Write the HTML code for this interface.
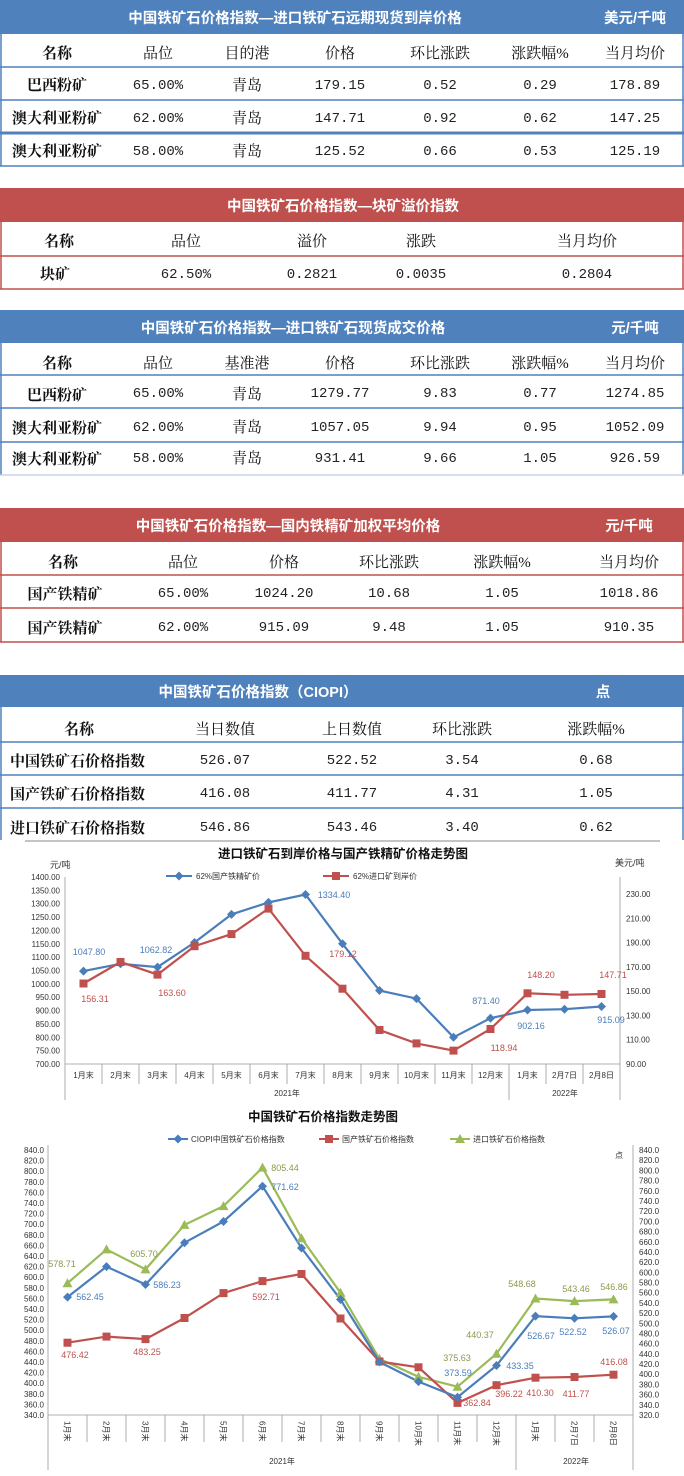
<!DOCTYPE html>
<html><head><meta charset="utf-8"><style>
html,body{margin:0;padding:0;background:#fff}
svg{display:block}
.h{font-family:"Liberation Sans","Noto Sans CJK SC",sans-serif;font-weight:bold;font-size:14.5px;fill:#fff}
.c{font-family:"Liberation Serif","Noto Serif CJK SC",serif;font-size:15px;fill:#111;text-anchor:middle}
.b{font-weight:bold}
.n{font-family:"Liberation Mono","Noto Serif CJK SC",monospace;font-size:14px;fill:#222;text-anchor:middle}
.ax{font-family:"Liberation Sans","Noto Sans CJK SC",sans-serif;font-size:8px;fill:#333}
.t{font-family:"Liberation Sans","Noto Sans CJK SC",sans-serif;font-size:12.5px;font-weight:bold;fill:#111;text-anchor:middle}
.lb{font-family:"Liberation Sans","Noto Sans CJK SC",sans-serif;font-size:9px}
</style></head><body>
<svg width="684" height="1476" viewBox="0 0 684 1476" xmlns="http://www.w3.org/2000/svg">
<defs>
<path id="dia" d="M0,-4.5 L4.5,0 0,4.5 -4.5,0Z" fill="#4a7ebb"/>
<rect id="sq" x="-4" y="-4" width="8" height="8" fill="#c0504d"/>
<path id="tri" d="M0,-5 L5,4 -5,4Z" fill="#9bbb59"/>
</defs>

<!-- TABLE 1 -->
<rect x="0" y="0" width="684" height="34" fill="#4f81bd"/>
<text class="h" x="295" y="23" text-anchor="middle">中国铁矿石价格指数—进口铁矿石远期现货到岸价格</text>
<text class="h" x="635" y="23" text-anchor="middle">美元/千吨</text>
<g stroke="#4f81bd" stroke-width="1.5" fill="none">
<line x1="1" y1="34" x2="1" y2="166"/><line x1="683" y1="34" x2="683" y2="166"/>
<line x1="0" y1="67" x2="684" y2="67"/><line x1="0" y1="100" x2="684" y2="100"/>
<line x1="0" y1="133" x2="684" y2="133" stroke-width="3"/><line x1="0" y1="166" x2="684" y2="166"/>
</g>
<g class="c"><text class="c b" x="57" y="58">名称</text><text class="c" x="158" y="58">品位</text><text class="c" x="247" y="58">目的港</text><text class="c" x="340" y="58">价格</text><text class="c" x="440" y="58">环比涨跌</text><text class="c" x="540" y="58">涨跌幅%</text><text class="c" x="635" y="58">当月均价</text></g>
<text class="c b" x="57" y="90">巴西粉矿</text><text class="c" x="247" y="90">青岛</text>
<text class="n" x="158" y="89">65.00%</text><text class="n" x="340" y="89">179.15</text><text class="n" x="440" y="89">0.52</text><text class="n" x="540" y="89">0.29</text><text class="n" x="635" y="89">178.89</text>
<text class="c b" x="57" y="123">澳大利亚粉矿</text><text class="c" x="247" y="123">青岛</text>
<text class="n" x="158" y="122">62.00%</text><text class="n" x="340" y="122">147.71</text><text class="n" x="440" y="122">0.92</text><text class="n" x="540" y="122">0.62</text><text class="n" x="635" y="122">147.25</text>
<text class="c b" x="57" y="156">澳大利亚粉矿</text><text class="c" x="247" y="156">青岛</text>
<text class="n" x="158" y="155">58.00%</text><text class="n" x="340" y="155">125.52</text><text class="n" x="440" y="155">0.66</text><text class="n" x="540" y="155">0.53</text><text class="n" x="635" y="155">125.19</text>

<!-- TABLE 2 -->
<rect x="0" y="188" width="684" height="34" fill="#c0504d"/>
<text class="h" x="343" y="211" text-anchor="middle">中国铁矿石价格指数—块矿溢价指数</text>
<g stroke="#c0504d" stroke-width="1.5" fill="none">
<line x1="1" y1="222" x2="1" y2="289"/><line x1="683" y1="222" x2="683" y2="289"/>
<line x1="0" y1="256" x2="684" y2="256"/><line x1="0" y1="289" x2="684" y2="289"/>
</g>
<text class="c b" x="59" y="246">名称</text><text class="c" x="186" y="246">品位</text><text class="c" x="312" y="246">溢价</text><text class="c" x="421" y="246">涨跌</text><text class="c" x="587" y="246">当月均价</text>
<text class="c b" x="55" y="279">块矿</text><text class="n" x="186" y="278">62.50%</text><text class="n" x="312" y="278">0.2821</text><text class="n" x="421" y="278">0.0035</text><text class="n" x="587" y="278">0.2804</text>

<!-- TABLE 3 -->
<rect x="0" y="310" width="684" height="33" fill="#4f81bd"/>
<text class="h" x="293" y="333" text-anchor="middle">中国铁矿石价格指数—进口铁矿石现货成交价格</text>
<text class="h" x="635" y="333" text-anchor="middle">元/千吨</text>
<g stroke="#4f81bd" stroke-width="1.5" fill="none">
<line x1="1" y1="343" x2="1" y2="475"/><line x1="683" y1="343" x2="683" y2="475"/>
<line x1="0" y1="375" x2="684" y2="375"/><line x1="0" y1="408" x2="684" y2="408"/>
<line x1="0" y1="442" x2="684" y2="442"/><line x1="0" y1="475" x2="684" y2="475" stroke="#c5d3e6"/>
</g>
<text class="c b" x="57" y="368">名称</text><text class="c" x="158" y="368">品位</text><text class="c" x="247" y="368">基准港</text><text class="c" x="340" y="368">价格</text><text class="c" x="440" y="368">环比涨跌</text><text class="c" x="540" y="368">涨跌幅%</text><text class="c" x="635" y="368">当月均价</text>
<text class="c b" x="57" y="400">巴西粉矿</text><text class="c" x="247" y="399">青岛</text>
<text class="n" x="158" y="397">65.00%</text><text class="n" x="340" y="397">1279.77</text><text class="n" x="440" y="397">9.83</text><text class="n" x="540" y="397">0.77</text><text class="n" x="635" y="397">1274.85</text>
<text class="c b" x="57" y="433">澳大利亚粉矿</text><text class="c" x="247" y="432">青岛</text>
<text class="n" x="158" y="431">62.00%</text><text class="n" x="340" y="431">1057.05</text><text class="n" x="440" y="431">9.94</text><text class="n" x="540" y="431">0.95</text><text class="n" x="635" y="431">1052.09</text>
<text class="c b" x="57" y="464">澳大利亚粉矿</text><text class="c" x="247" y="463">青岛</text>
<text class="n" x="158" y="462">58.00%</text><text class="n" x="340" y="462">931.41</text><text class="n" x="440" y="462">9.66</text><text class="n" x="540" y="462">1.05</text><text class="n" x="635" y="462">926.59</text>

<!-- TABLE 4 -->
<rect x="0" y="508" width="684" height="34" fill="#c0504d"/>
<text class="h" x="288" y="531" text-anchor="middle">中国铁矿石价格指数—国内铁精矿加权平均价格</text>
<text class="h" x="629" y="531" text-anchor="middle">元/千吨</text>
<g stroke="#c0504d" stroke-width="1.5" fill="none">
<line x1="1" y1="542" x2="1" y2="642"/><line x1="683" y1="542" x2="683" y2="642"/>
<line x1="0" y1="575" x2="684" y2="575"/><line x1="0" y1="608" x2="684" y2="608"/><line x1="0" y1="642" x2="684" y2="642"/>
</g>
<text class="c b" x="63" y="567">名称</text><text class="c" x="183" y="567">品位</text><text class="c" x="284" y="567">价格</text><text class="c" x="389" y="567">环比涨跌</text><text class="c" x="502" y="567">涨跌幅%</text><text class="c" x="629" y="567">当月均价</text>
<text class="c b" x="65" y="599">国产铁精矿</text><text class="n" x="183" y="597">65.00%</text><text class="n" x="284" y="597">1024.20</text><text class="n" x="389" y="597">10.68</text><text class="n" x="502" y="597">1.05</text><text class="n" x="629" y="597">1018.86</text>
<text class="c b" x="65" y="633">国产铁精矿</text><text class="n" x="183" y="631">62.00%</text><text class="n" x="284" y="631">915.09</text><text class="n" x="389" y="631">9.48</text><text class="n" x="502" y="631">1.05</text><text class="n" x="629" y="631">910.35</text>

<!-- TABLE 5 -->
<rect x="0" y="675" width="684" height="32" fill="#4f81bd"/>
<text class="h" x="258" y="697" text-anchor="middle">中国铁矿石价格指数（CIOPI）</text>
<text class="h" x="603" y="697" text-anchor="middle">点</text>
<g stroke="#4f81bd" stroke-width="1.5" fill="none">
<line x1="1" y1="707" x2="1" y2="840"/><line x1="683" y1="707" x2="683" y2="840"/>
<line x1="0" y1="742" x2="684" y2="742"/><line x1="0" y1="775" x2="684" y2="775"/><line x1="0" y1="808" x2="684" y2="808"/>
</g>
<text class="c b" x="79" y="734">名称</text><text class="c" x="225" y="734">当日数值</text><text class="c" x="352" y="734">上日数值</text><text class="c" x="462" y="734">环比涨跌</text><text class="c" x="596" y="734">涨跌幅%</text>
<text class="c b" x="10" y="766" style="text-anchor:start">中国铁矿石价格指数</text><text class="n" x="225" y="764">526.07</text><text class="n" x="352" y="764">522.52</text><text class="n" x="462" y="764">3.54</text><text class="n" x="596" y="764">0.68</text>
<text class="c b" x="10" y="799" style="text-anchor:start">国产铁矿石价格指数</text><text class="n" x="225" y="797">416.08</text><text class="n" x="352" y="797">411.77</text><text class="n" x="462" y="797">4.31</text><text class="n" x="596" y="797">1.05</text>
<text class="c b" x="10" y="833" style="text-anchor:start">进口铁矿石价格指数</text><text class="n" x="225" y="831">546.86</text><text class="n" x="352" y="831">543.46</text><text class="n" x="462" y="831">3.40</text><text class="n" x="596" y="831">0.62</text>

<!-- CHART 1 -->
<line x1="25" y1="841" x2="660" y2="841" stroke="#888" stroke-width="1"/>
<text class="t" x="343" y="858">进口铁矿石到岸价格与国产铁精矿价格走势图</text>
<text class="ax" x="50" y="868" style="font-size:9px">元/吨</text>
<text class="ax" x="615" y="866" style="font-size:9px">美元/吨</text>
<line x1="166" y1="876" x2="192" y2="876" stroke="#4a7ebb" stroke-width="2"/><use href="#dia" x="179" y="876"/>
<text class="ax" x="196" y="879">62%国产铁精矿价</text>
<line x1="323" y1="876" x2="349" y2="876" stroke="#c0504d" stroke-width="2"/><use href="#sq" x="336" y="876"/>
<text class="ax" x="353" y="879">62%进口矿到岸价</text>
<g stroke="#999" stroke-width="0.8">
<line x1="65" y1="877" x2="65" y2="1100"/><line x1="620" y1="877" x2="620" y2="1100"/>
<line x1="65" y1="1064" x2="620" y2="1064"/>
<line x1="509" y1="1064" x2="509" y2="1100"/>
<line x1="102" y1="1064" x2="102" y2="1084"/><line x1="139" y1="1064" x2="139" y2="1084"/><line x1="176" y1="1064" x2="176" y2="1084"/><line x1="213" y1="1064" x2="213" y2="1084"/><line x1="250" y1="1064" x2="250" y2="1084"/><line x1="287" y1="1064" x2="287" y2="1084"/><line x1="324" y1="1064" x2="324" y2="1084"/><line x1="361" y1="1064" x2="361" y2="1084"/><line x1="398" y1="1064" x2="398" y2="1084"/><line x1="435" y1="1064" x2="435" y2="1084"/><line x1="472" y1="1064" x2="472" y2="1084"/><line x1="546" y1="1064" x2="546" y2="1084"/><line x1="583" y1="1064" x2="583" y2="1084"/>
</g>
<g class="ax" text-anchor="end">
<text x="60" y="1067">700.00</text><text x="60" y="1053.6">750.00</text><text x="60" y="1040.3">800.00</text><text x="60" y="1026.9">850.00</text><text x="60" y="1013.6">900.00</text><text x="60" y="1000.2">950.00</text><text x="60" y="986.9">1000.00</text><text x="60" y="973.5">1050.00</text><text x="60" y="960.1">1100.00</text><text x="60" y="946.8">1150.00</text><text x="60" y="933.4">1200.00</text><text x="60" y="920.1">1250.00</text><text x="60" y="906.7">1300.00</text><text x="60" y="893.3">1350.00</text><text x="60" y="880">1400.00</text>
</g>
<g class="ax">
<text x="626" y="1067">90.00</text><text x="626" y="1042.7">110.00</text><text x="626" y="1018.4">130.00</text><text x="626" y="994.1">150.00</text><text x="626" y="969.8">170.00</text><text x="626" y="945.6">190.00</text><text x="626" y="921.3">210.00</text><text x="626" y="897">230.00</text>
</g>
<g class="ax" text-anchor="middle">
<text x="83.5" y="1078">1月末</text><text x="120.5" y="1078">2月末</text><text x="157.5" y="1078">3月末</text><text x="194.5" y="1078">4月末</text><text x="231.5" y="1078">5月末</text><text x="268.5" y="1078">6月末</text><text x="305.5" y="1078">7月末</text><text x="342.5" y="1078">8月末</text><text x="379.5" y="1078">9月末</text><text x="416.5" y="1078">10月末</text><text x="453.5" y="1078">11月末</text><text x="490.5" y="1078">12月末</text><text x="527.5" y="1078">1月末</text><text x="564.5" y="1078">2月7日</text><text x="601.5" y="1078">2月8日</text>
<text x="287" y="1096">2021年</text><text x="565" y="1096">2022年</text>
</g>
<polyline fill="none" stroke="#4a7ebb" stroke-width="2.2" points="83.5,971.1 120.5,963.8 157.5,967.1 194.5,942.5 231.5,914.4 268.5,902.4 305.5,894.5 342.5,943.8 379.5,990.5 416.5,998.6 453.5,1037.3 490.5,1018.2 527.5,1010 564.5,1009.2 601.5,1006.5"/>
<polyline fill="none" stroke="#c0504d" stroke-width="2.2" points="83.5,983.5 120.5,962 157.5,974.6 194.5,946.2 231.5,934.1 268.5,908.6 305.5,955.8 342.5,988.7 379.5,1030 416.5,1043.4 453.5,1050.6 490.5,1029 527.5,993.3 564.5,994.8 601.5,994"/>
<g>
<use href="#dia" x="83.5" y="971.1"/><use href="#dia" x="120.5" y="963.8"/><use href="#dia" x="157.5" y="967.1"/><use href="#dia" x="194.5" y="942.5"/><use href="#dia" x="231.5" y="914.4"/><use href="#dia" x="268.5" y="902.4"/><use href="#dia" x="305.5" y="894.5"/><use href="#dia" x="342.5" y="943.8"/><use href="#dia" x="379.5" y="990.5"/><use href="#dia" x="416.5" y="998.6"/><use href="#dia" x="453.5" y="1037.3"/><use href="#dia" x="490.5" y="1018.2"/><use href="#dia" x="527.5" y="1010"/><use href="#dia" x="564.5" y="1009.2"/><use href="#dia" x="601.5" y="1006.5"/>
<use href="#sq" x="83.5" y="983.5"/><use href="#sq" x="120.5" y="962"/><use href="#sq" x="157.5" y="974.6"/><use href="#sq" x="194.5" y="946.2"/><use href="#sq" x="231.5" y="934.1"/><use href="#sq" x="268.5" y="908.6"/><use href="#sq" x="305.5" y="955.8"/><use href="#sq" x="342.5" y="988.7"/><use href="#sq" x="379.5" y="1030"/><use href="#sq" x="416.5" y="1043.4"/><use href="#sq" x="453.5" y="1050.6"/><use href="#sq" x="490.5" y="1029"/><use href="#sq" x="527.5" y="993.3"/><use href="#sq" x="564.5" y="994.8"/><use href="#sq" x="601.5" y="994"/>
</g>
<g class="lb" text-anchor="middle" fill="#4a7ebb">
<text x="89" y="955">1047.80</text><text x="156" y="953">1062.82</text><text x="334" y="898">1334.40</text><text x="486" y="1004">871.40</text><text x="531" y="1029">902.16</text><text x="611" y="1023">915.09</text>
</g>
<g class="lb" text-anchor="middle" fill="#c0504d">
<text x="95" y="1002">156.31</text><text x="172" y="996">163.60</text><text x="343" y="957">179.12</text><text x="504" y="1051">118.94</text><text x="541" y="978">148.20</text><text x="613" y="978">147.71</text>
</g>

<!-- CHART 2 -->
<text class="t" x="323" y="1121">中国铁矿石价格指数走势图</text>
<line x1="168" y1="1139" x2="188" y2="1139" stroke="#4a7ebb" stroke-width="2"/><use href="#dia" x="178" y="1139"/>
<text class="ax" x="191" y="1142">CIOPI中国铁矿石价格指数</text>
<line x1="319" y1="1139" x2="339" y2="1139" stroke="#c0504d" stroke-width="2"/><use href="#sq" x="329" y="1139"/>
<text class="ax" x="342" y="1142">国产铁矿石价格指数</text>
<line x1="450" y1="1139" x2="470" y2="1139" stroke="#9bbb59" stroke-width="2"/><use href="#tri" x="460" y="1139"/>
<text class="ax" x="473" y="1142">进口铁矿石价格指数</text>
<text class="ax" x="615" y="1158">点</text>
<g stroke="#999" stroke-width="0.8">
<line x1="48" y1="1145" x2="48" y2="1470"/><line x1="633" y1="1145" x2="633" y2="1470"/>
<line x1="48" y1="1415" x2="633" y2="1415"/>
<line x1="516" y1="1415" x2="516" y2="1470"/>
<line x1="87" y1="1415" x2="87" y2="1442"/><line x1="126" y1="1415" x2="126" y2="1442"/><line x1="165" y1="1415" x2="165" y2="1442"/><line x1="204" y1="1415" x2="204" y2="1442"/><line x1="243" y1="1415" x2="243" y2="1442"/><line x1="282" y1="1415" x2="282" y2="1442"/><line x1="321" y1="1415" x2="321" y2="1442"/><line x1="360" y1="1415" x2="360" y2="1442"/><line x1="399" y1="1415" x2="399" y2="1442"/><line x1="438" y1="1415" x2="438" y2="1442"/><line x1="477" y1="1415" x2="477" y2="1442"/><line x1="555" y1="1415" x2="555" y2="1442"/><line x1="594" y1="1415" x2="594" y2="1442"/>
</g>
<g class="ax" text-anchor="end">
<text x="44" y="1418">340.0</text><text x="44" y="1407.4">360.0</text><text x="44" y="1396.8">380.0</text><text x="44" y="1386.2">400.0</text><text x="44" y="1375.6">420.0</text><text x="44" y="1365">440.0</text><text x="44" y="1354.4">460.0</text><text x="44" y="1343.8">480.0</text><text x="44" y="1333.2">500.0</text><text x="44" y="1322.6">520.0</text><text x="44" y="1312">540.0</text><text x="44" y="1301.4">560.0</text><text x="44" y="1290.8">580.0</text><text x="44" y="1280.2">600.0</text><text x="44" y="1269.6">620.0</text><text x="44" y="1259">640.0</text><text x="44" y="1248.4">660.0</text><text x="44" y="1237.8">680.0</text><text x="44" y="1227.2">700.0</text><text x="44" y="1216.6">720.0</text><text x="44" y="1206">740.0</text><text x="44" y="1195.4">760.0</text><text x="44" y="1184.8">780.0</text><text x="44" y="1174.2">800.0</text><text x="44" y="1163.6">820.0</text><text x="44" y="1153">840.0</text>
</g>
<g class="ax">
<text x="639" y="1418">320.0</text><text x="639" y="1407.8">340.0</text><text x="639" y="1397.6">360.0</text><text x="639" y="1387.4">380.0</text><text x="639" y="1377.2">400.0</text><text x="639" y="1367.1">420.0</text><text x="639" y="1356.9">440.0</text><text x="639" y="1346.7">460.0</text><text x="639" y="1336.5">480.0</text><text x="639" y="1326.3">500.0</text><text x="639" y="1316.1">520.0</text><text x="639" y="1305.9">540.0</text><text x="639" y="1295.7">560.0</text><text x="639" y="1285.5">580.0</text><text x="639" y="1275.3">600.0</text><text x="639" y="1265.2">620.0</text><text x="639" y="1255">640.0</text><text x="639" y="1244.8">660.0</text><text x="639" y="1234.6">680.0</text><text x="639" y="1224.4">700.0</text><text x="639" y="1214.2">720.0</text><text x="639" y="1204">740.0</text><text x="639" y="1193.8">760.0</text><text x="639" y="1183.6">780.0</text><text x="639" y="1173.4">800.0</text><text x="639" y="1163.2">820.0</text><text x="639" y="1153">840.0</text>
</g>
<g class="ax">
<text transform="translate(64.5,1421) rotate(90)">1月末</text><text transform="translate(103.5,1421) rotate(90)">2月末</text><text transform="translate(142.5,1421) rotate(90)">3月末</text><text transform="translate(181.5,1421) rotate(90)">4月末</text><text transform="translate(220.5,1421) rotate(90)">5月末</text><text transform="translate(259.5,1421) rotate(90)">6月末</text><text transform="translate(298.5,1421) rotate(90)">7月末</text><text transform="translate(337.5,1421) rotate(90)">8月末</text><text transform="translate(376.5,1421) rotate(90)">9月末</text><text transform="translate(415.5,1421) rotate(90)">10月末</text><text transform="translate(454.5,1421) rotate(90)">11月末</text><text transform="translate(493.5,1421) rotate(90)">12月末</text><text transform="translate(532.5,1421) rotate(90)">1月末</text><text transform="translate(571.5,1421) rotate(90)">2月7日</text><text transform="translate(610.5,1421) rotate(90)">2月8日</text>
</g>
<g class="ax" text-anchor="middle"><text x="282" y="1464">2021年</text><text x="576" y="1464">2022年</text></g>
<polyline fill="none" stroke="#9bbb59" stroke-width="2.2" points="67.5,1283.2 106.5,1249.4 145.5,1269.4 184.5,1224.9 223.5,1206.1 262.5,1167.6 301.5,1238.2 340.5,1292.7 379.5,1358.9 418.5,1376.8 457.5,1386.7 496.5,1353.7 535.5,1298.5 574.5,1301.1 613.5,1299.4"/>
<polyline fill="none" stroke="#c0504d" stroke-width="2.2" points="67.5,1342.7 106.5,1336.6 145.5,1339.1 184.5,1318 223.5,1293.1 262.5,1281.1 301.5,1274 340.5,1318.5 379.5,1361.5 418.5,1367.3 457.5,1402.9 496.5,1385.2 535.5,1377.7 574.5,1377 613.5,1374.7"/>
<polyline fill="none" stroke="#4a7ebb" stroke-width="2.2" points="67.5,1297.1 106.5,1266.6 145.5,1284.5 184.5,1242.7 223.5,1221.5 262.5,1186.2 301.5,1248 340.5,1299.5 379.5,1362 418.5,1381.6 457.5,1397.2 496.5,1365.5 535.5,1316.1 574.5,1318.3 613.5,1316.4"/>
<g>
<use href="#tri" x="67.5" y="1283.2"/><use href="#tri" x="106.5" y="1249.4"/><use href="#tri" x="145.5" y="1269.4"/><use href="#tri" x="184.5" y="1224.9"/><use href="#tri" x="223.5" y="1206.1"/><use href="#tri" x="262.5" y="1167.6"/><use href="#tri" x="301.5" y="1238.2"/><use href="#tri" x="340.5" y="1292.7"/><use href="#tri" x="379.5" y="1358.9"/><use href="#tri" x="418.5" y="1376.8"/><use href="#tri" x="457.5" y="1386.7"/><use href="#tri" x="496.5" y="1353.7"/><use href="#tri" x="535.5" y="1298.5"/><use href="#tri" x="574.5" y="1301.1"/><use href="#tri" x="613.5" y="1299.4"/>
<use href="#sq" x="67.5" y="1342.7"/><use href="#sq" x="106.5" y="1336.6"/><use href="#sq" x="145.5" y="1339.1"/><use href="#sq" x="184.5" y="1318"/><use href="#sq" x="223.5" y="1293.1"/><use href="#sq" x="262.5" y="1281.1"/><use href="#sq" x="301.5" y="1274"/><use href="#sq" x="340.5" y="1318.5"/><use href="#sq" x="379.5" y="1361.5"/><use href="#sq" x="418.5" y="1367.3"/><use href="#sq" x="457.5" y="1402.9"/><use href="#sq" x="496.5" y="1385.2"/><use href="#sq" x="535.5" y="1377.7"/><use href="#sq" x="574.5" y="1377"/><use href="#sq" x="613.5" y="1374.7"/>
<use href="#dia" x="67.5" y="1297.1"/><use href="#dia" x="106.5" y="1266.6"/><use href="#dia" x="145.5" y="1284.5"/><use href="#dia" x="184.5" y="1242.7"/><use href="#dia" x="223.5" y="1221.5"/><use href="#dia" x="262.5" y="1186.2"/><use href="#dia" x="301.5" y="1248"/><use href="#dia" x="340.5" y="1299.5"/><use href="#dia" x="379.5" y="1362"/><use href="#dia" x="418.5" y="1381.6"/><use href="#dia" x="457.5" y="1397.2"/><use href="#dia" x="496.5" y="1365.5"/><use href="#dia" x="535.5" y="1316.1"/><use href="#dia" x="574.5" y="1318.3"/><use href="#dia" x="613.5" y="1316.4"/>
</g>
<g class="lb" text-anchor="middle" fill="#8a9a4a">
<text x="62" y="1267">578.71</text><text x="144" y="1257">605.70</text><text x="285" y="1171">805.44</text><text x="457" y="1361">375.63</text><text x="480" y="1338">440.37</text><text x="522" y="1287">548.68</text><text x="576" y="1292">543.46</text><text x="614" y="1290">546.86</text>
</g>
<g class="lb" text-anchor="middle" fill="#4a7ebb">
<text x="90" y="1300">562.45</text><text x="167" y="1288">586.23</text><text x="285" y="1190">771.62</text><text x="458" y="1376">373.59</text><text x="520" y="1369">433.35</text><text x="541" y="1339">526.67</text><text x="573" y="1335">522.52</text><text x="616" y="1334">526.07</text>
</g>
<g class="lb" text-anchor="middle" fill="#c0504d">
<text x="75" y="1358">476.42</text><text x="147" y="1355">483.25</text><text x="266" y="1300">592.71</text><text x="477" y="1406">362.84</text><text x="509" y="1397">396.22</text><text x="540" y="1396">410.30</text><text x="576" y="1397">411.77</text><text x="614" y="1365">416.08</text>
</g>
</svg>
</body></html>
